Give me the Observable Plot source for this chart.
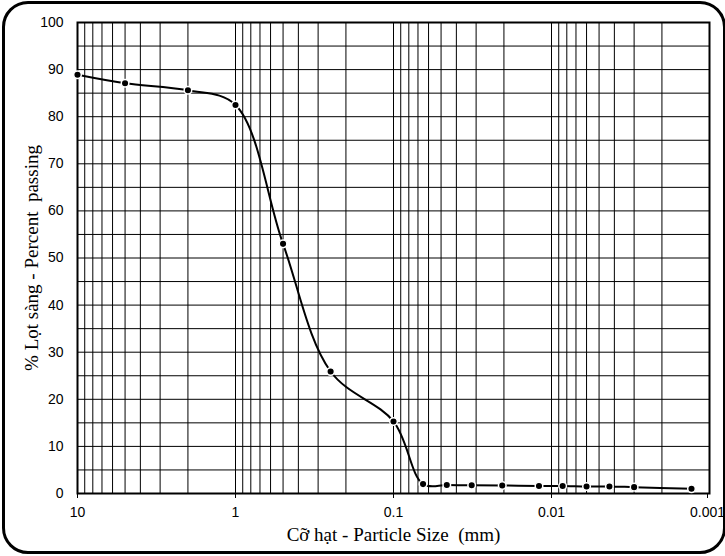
<!DOCTYPE html>
<html>
<head>
<meta charset="utf-8">
<script src="https://cdn.jsdelivr.net/npm/d3@7"></script>
<script src="https://cdn.jsdelivr.net/npm/@observablehq/plot@0.6"></script>
<style>
  html, body { margin: 0; padding: 0; background: #fff; }
  #wrap { position: relative; width: 725px; height: 556px; overflow: hidden; }
  #wrap svg { position: absolute; left: 0; top: 0; overflow: visible; }
  #border { position: absolute; left: 2px; top: 1px; width: 724px; height: 553px; box-sizing: border-box;
            border: 3px solid #000; border-radius: 26px; }
  .serif-label text { font-family: "Liberation Serif", "Times New Roman", serif !important; font-size: 19px !important; }
</style>
</head>
<body>
<div id="wrap"><div id="border"></div></div>
<script>
// Particle size (mm) and percent passing
const sizes   = [10, 5, 2, 1, 0.5, 0.25, 0.1, 0.065, 0.046, 0.032, 0.0205, 0.012, 0.0085, 0.006, 0.0043, 0.003, 0.0013];
const passing = [88.9, 87.1, 85.6, 82.5, 53.0, 25.9, 15.3, 2.0, 1.8, 1.75, 1.7, 1.6, 1.6, 1.5, 1.5, 1.35, 1.0];

const xTicks = [10, 1, 0.1, 0.01, 0.001];
const yTicks = [0, 10, 20, 30, 40, 50, 60, 70, 80, 90, 100];
const yGrid  = [5, 10, 15, 20, 25, 30, 35, 40, 45, 50, 55, 60, 65, 70, 75, 80, 85, 90, 95];
const xGrid  = d3.scaleLog().domain([0.001, 10]).ticks().filter(v => v > 0.001 && v < 10);

const xLabel = "Cỡ hạt - Particle Size  (mm)";
const yLabel = "% Lọt sàng - Percent  passing";

const data = sizes.map((s, i) => ({size: s, pct: passing[i]}));

const chart = Plot.plot({
  width: 725,
  height: 556,
  marginLeft: 77,
  marginRight: 16,
  marginTop: 22,
  marginBottom: 63,
  style: {fontFamily: "'Liberation Sans', Arial, sans-serif", fontSize: "14px", color: "#000", background: "transparent"},
  x: {type: "log", domain: [10, 0.001], label: null},
  y: {domain: [0, 100], label: null},
  marks: [
    Plot.ruleX(xGrid, {x: d => d, stroke: "#000", strokeWidth: 1}),
    Plot.ruleY(yGrid, {y: d => d, stroke: "#000", strokeWidth: 1}),
    Plot.frame({stroke: "#000", strokeWidth: 2}),
    Plot.axisX({ticks: xTicks.slice(0, -1), tickFormat: d => String(d), tickSize: 5, tickPadding: 9, fontSize: 14, label: null}),
    Plot.axisX({ticks: xTicks.slice(-1), tickFormat: d => String(d), tickSize: 5, tickPadding: 9, fontSize: 14, label: null, dx: -2}),
    Plot.axisY({ticks: yTicks, tickSize: 0, tickPadding: 14, fontSize: 14, label: null}),
    Plot.line(data, {x: "size", y: "pct", curve: "catmull-rom", stroke: "#000", strokeWidth: 2}),
    Plot.dot(data, {x: "size", y: "pct", r: 3.8, fill: "#000", stroke: "#fff", strokeWidth: 1.5}),
    Plot.text([xLabel], {frameAnchor: "bottom", dy: 41, lineAnchor: "middle", textAnchor: "middle", text: d => d, fontSize: 19}),
    Plot.text([yLabel], {frameAnchor: "left", dx: -46, rotate: -90, lineAnchor: "middle", textAnchor: "middle", text: d => d, fontSize: 19})
  ]
});
// mark the two axis-title groups so CSS gives them the serif face
chart.querySelectorAll("g[aria-label='text']").forEach(g => g.classList.add("serif-label"));
document.getElementById("wrap").appendChild(chart);
</script>
</body>
</html>
